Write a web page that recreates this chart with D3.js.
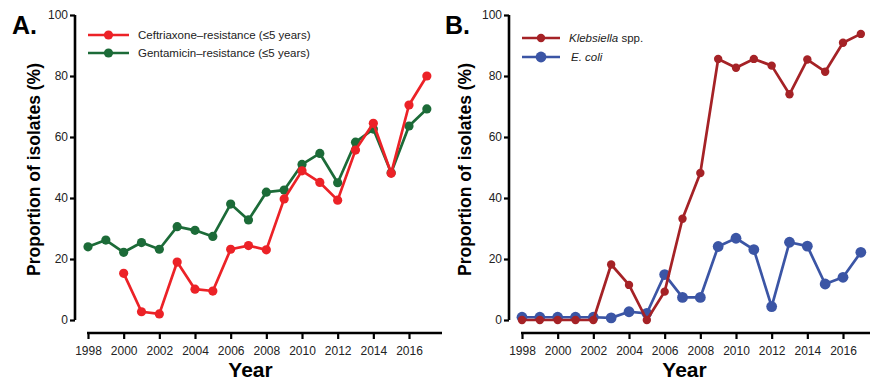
<!DOCTYPE html>
<html>
<head>
<meta charset="utf-8">
<script src="https://cdn.jsdelivr.net/npm/d3@7"></script>
<style>
  body { margin: 0; background: #fff; }
  text { font-family: "Liberation Sans", Arial, sans-serif; }
</style>
</head>
<body>
<svg id="chart" width="870" height="383"></svg>
<script>
// Data
const years = d3.range(1998, 2018);
const xTicks = [1998, 2000, 2002, 2004, 2006, 2008, 2010, 2012, 2014, 2016];
const yTicks = [0, 20, 40, 60, 80, 100];

// Panel A (ceftriaxone starts in 2000)
const ceftriaxone = [null, null, 15.3, 2.7, 2.0, 19.0, 10.1, 9.5, 23.2, 24.4,
                     23.0, 39.7, 48.9, 45.1, 39.3, 55.7, 64.5, 48.1, 70.5, 80.0];
const gentamicin = [24.0, 26.2, 22.2, 25.4, 23.2, 30.6, 29.4, 27.4, 38.0, 32.8,
                    41.9, 42.6, 51.0, 54.6, 45.0, 58.3, 62.6, 48.3, 63.6, 69.2];

// Panel B
const klebsiella = [0, 0, 0, 0, 0, 18.2, 11.5, 0, 9.3, 33.2,
                    48.2, 85.6, 82.7, 85.6, 83.4, 74.0, 85.4, 81.4, 90.9, 93.8];
const ecoli = [0.9, 0.9, 0.9, 0.9, 0.9, 0.7, 2.7, 2.2, 14.9, 7.4,
               7.4, 24.1, 26.8, 23.1, 4.4, 25.5, 24.2, 11.8, 14.0, 22.2];

const svg = d3.select("#chart");

// ----------------------------------------
// PANEL DRAWING
// ----------------------------------------
function drawPanel(opts) {
    const g = svg.append("g").attr("transform", `translate(${opts.left},0)`);

    const y = d3.scaleLinear().domain([0, 100]).range([320, 15]);
    const x = d3.scaleLinear().domain([1998, 2016]).range([13, 334]);

    // y axis
    const yAxis = g.append("g")
        .call(d3.axisLeft(y).tickValues(yTicks).tickSize(5).tickPadding(2).tickSizeOuter(0));
    yAxis.select(".domain").attr("stroke-width", 2.6).attr("d", `M0,${y(100)}V${y(0)}`);
    yAxis.selectAll(".tick line").attr("stroke-width", 2.2);
    yAxis.selectAll(".tick text").attr("font-size", 12).attr("fill", "#222")
        .attr("font-family", "Liberation Sans, Arial, sans-serif");

    // x axis
    const xAxis = g.append("g")
        .attr("transform", "translate(0,333)")
        .call(d3.axisBottom(x).tickValues(xTicks).tickFormat(d3.format("d"))
            .tickSize(6).tickPadding(7).tickSizeOuter(0));
    xAxis.select(".domain").attr("stroke-width", 2.6).attr("d", `M${x(1998) - 1},0H${opts.axisEnd}`);
    xAxis.selectAll(".tick line").attr("stroke-width", 2.2);
    xAxis.selectAll(".tick text").attr("font-size", 12).attr("fill", "#222")
        .attr("font-family", "Liberation Sans, Arial, sans-serif");

    // axis titles
    g.append("text")
        .attr("transform", `translate(${opts.titleX},${(y(0) + y(100)) / 2 + 2}) rotate(-90)`)
        .attr("text-anchor", "middle")
        .attr("font-size", 17.5)
        .attr("font-weight", "bold")
        .text("Proportion of isolates (%)");

    g.append("text")
        .attr("x", x(2007) + 2)
        .attr("y", 377)
        .attr("text-anchor", "middle")
        .attr("font-size", 21)
        .attr("font-weight", "bold")
        .text("Year");

    // panel letter
    g.append("text")
        .attr("x", opts.letterX)
        .attr("y", 34)
        .attr("font-size", 25)
        .attr("font-weight", "bold")
        .text(opts.letter);

    // series
    opts.series.forEach(s => {
        const pts = years.map((yr, i) => ({ yr, v: s.values[i] })).filter(d => d.v != null);
        const line = d3.line().x(d => x(d.yr)).y(d => y(d.v));
        g.append("path")
            .datum(pts)
            .attr("d", line)
            .attr("fill", "none")
            .attr("stroke", s.color)
            .attr("stroke-width", 2.7)
            .attr("stroke-linejoin", "round");
        g.append("g").selectAll("circle")
            .data(pts)
            .enter()
            .append("circle")
            .attr("cx", d => x(d.yr))
            .attr("cy", d => y(d.v))
            .attr("r", s.r)
            .attr("fill", s.color);

        // legend
        const lg = g.append("g").attr("transform", `translate(0,${s.legendY})`);
        lg.append("line")
            .attr("x1", opts.legendX).attr("x2", opts.legendX + opts.legendLen)
            .attr("stroke", s.color).attr("stroke-width", 2.6);
        lg.append("circle")
            .attr("cx", opts.legendX + opts.legendLen / 2).attr("r", s.r).attr("fill", s.color);
        const t = lg.append("text")
            .attr("x", s.textX)
            .attr("y", 4)
            .attr("font-size", 11.5)
            .attr("fill", "#222");
        s.label.forEach(part => {
            t.append("tspan").attr("font-style", part.italic ? "italic" : "normal").text(part.text);
        });
    });
}

drawPanel({
    left: 75,
    letter: "A.",
    letterX: -63,
    titleX: -35,
    legendX: 13,
    legendLen: 41,
    axisEnd: 367,
    series: [
        { values: gentamicin, color: "#1c6b38", r: 4.6, legendY: 53, textX: 63,
          label: [{ text: "Gentamicin\u2013resistance (\u22645 years)" }] },
        { values: ceftriaxone, color: "#ec2227", r: 4.6, legendY: 35, textX: 63,
          label: [{ text: "Ceftriaxone\u2013resistance (\u22645 years)" }] }
    ]
});

drawPanel({
    left: 509,
    letter: "B.",
    letterX: -64,
    titleX: -38,
    legendX: 13,
    legendLen: 38,
    axisEnd: 361,
    series: [
        { values: ecoli, color: "#3b55a5", r: 5.4, legendY: 57, textX: 62,
          label: [{ text: "E. coli", italic: true }] },
        { values: klebsiella, color: "#a52226", r: 4.2, legendY: 38, textX: 60,
          label: [{ text: "Klebsiella", italic: true }, { text: " spp." }] }
    ]
});
</script>
</body>
</html>
